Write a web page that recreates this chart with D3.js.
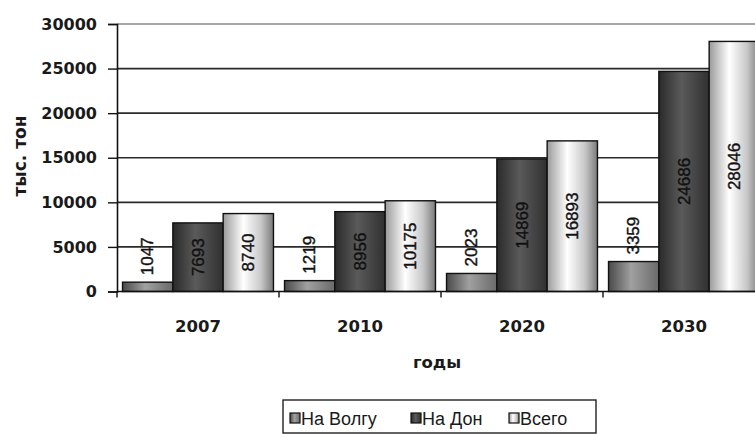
<!DOCTYPE html>
<html><head><meta charset="utf-8">
<script src="https://cdn.jsdelivr.net/npm/d3@7"></script>
<style>body{margin:0;background:#fff}svg{display:block}</style>
</head><body>
<svg id="c" width="755" height="434"></svg>
<script>
const categories = ["2007", "2010", "2020", "2030"];
const seriesNames = ["На Волгу", "На Дон", "Всего"];
const volga = [1047, 1219, 2023, 3359];
const don = [7693, 8956, 14869, 24686];
const total = [8740, 10175, 16893, 28046];
const yTicks = [0, 5000, 10000, 15000, 20000, 25000, 30000];
const yTitle = "тыс. тон";
const xTitle = "годы";

const seriesValues = [volga, don, total];
const svg = d3.select("#c");
const m = {left: 117, top: 24, right: 765, bottom: 291.5};

const defs = svg.append("defs");
const grads = [
  [["0%","#4a4a4a"],["45%","#a0a0a0"],["100%","#6a6a6a"]],
  [["0%","#2a2a2a"],["45%","#5a5a5a"],["100%","#303030"]],
  [["0%","#9a9a9a"],["40%","#ffffff"],["75%","#c8c8c8"],["100%","#7a7a7a"]]
];
grads.forEach((stops, i) => {
  const g = defs.append("linearGradient").attr("id", "g" + i).attr("x1", "0").attr("x2", "1").attr("y1", "0").attr("y2", "0");
  stops.forEach(s => g.append("stop").attr("offset", s[0]).attr("stop-color", s[1]));
});

const y = d3.scaleLinear().domain([0, 30000]).range([m.bottom, m.top]);
const x0 = d3.scaleBand().domain(categories).range([m.left, m.right]).paddingInner(0).paddingOuter(0);
const x1 = d3.scaleBand().domain(seriesNames).range([0, x0.bandwidth()]).paddingInner(0).paddingOuter(0.11);

// gridlines
svg.append("g").selectAll("line").data(yTicks.filter(t => t > 0)).join("line")
  .attr("x1", m.left).attr("x2", m.right)
  .attr("y1", d => y(d)).attr("y2", d => y(d))
  .attr("stroke", d => d === 30000 ? "#8a8a8a" : "#2a2a2a")
  .attr("stroke-width", 1.6);

// bars
const groups = svg.append("g").selectAll("g").data(categories).join("g")
  .attr("transform", d => `translate(${x0(d)},0)`);
groups.each(function(cat, ci) {
  const g = d3.select(this);
  seriesNames.forEach((s, si) => {
    const v = seriesValues[si][ci];
    g.append("rect")
      .attr("x", x1(s)).attr("width", x1.bandwidth())
      .attr("y", y(v)).attr("height", y(0) - y(v))
      .attr("fill", `url(#g${si})`)
      .attr("stroke", "#111").attr("stroke-width", 1.4);
  });
});

// labels
groups.each(function(cat, ci) {
  const g = d3.select(this);
  seriesNames.forEach((s, si) => {
    const v = seriesValues[si][ci];
    const cx = x1(s) + x1.bandwidth() / 2;
    let cy, anchor;
    if (si === 0) { cy = y(v) - 7; anchor = "start"; }
    else { cy = (y(v) + y(0)) / 2; anchor = "middle"; }
    g.append("text")
      .attr("transform", `translate(${cx},${cy}) rotate(-90)`)
      .attr("text-anchor", anchor)
      .attr("dominant-baseline", "central")
      .attr("font-family", "Liberation Sans, Arial, sans-serif")
      .attr("font-size", 17)
      .attr("fill", "#111").attr("stroke", "#111").attr("stroke-width", 0.4)
      .text(v);
  });
});

// y axis
const yAxis = d3.axisLeft(y).tickValues(yTicks).tickSize(9).tickPadding(11).tickFormat(d3.format("d"));
const ya = svg.append("g").attr("transform", `translate(${m.left},0)`).call(yAxis);
ya.select(".domain").attr("stroke", "#111").attr("stroke-width", 1.6);
ya.selectAll(".tick line").attr("stroke", "#111").attr("stroke-width", 1.4);
ya.selectAll(".tick text").attr("font-family", "DejaVu Sans, sans-serif").attr("font-weight", "bold")
  .attr("font-size", 16).attr("fill", "#1a1a1a");

// x axis
svg.append("line").attr("x1", m.left).attr("x2", m.right).attr("y1", y(0)).attr("y2", y(0))
  .attr("stroke", "#111").attr("stroke-width", 1.6);
svg.append("g").selectAll("line").data(categories).join("line")
  .attr("x1", d => x0(d)).attr("x2", d => x0(d))
  .attr("y1", y(0)).attr("y2", y(0) + 6)
  .attr("stroke", "#111").attr("stroke-width", 1.4);
svg.append("g").selectAll("text").data(categories).join("text")
  .attr("x", d => x0(d) + x0.bandwidth() / 2).attr("y", 332)
  .attr("text-anchor", "middle")
  .attr("font-family", "DejaVu Sans, sans-serif").attr("font-weight", "bold")
  .attr("font-size", 16.5).attr("fill", "#1a1a1a")
  .text(d => d);

// titles
svg.append("text").attr("transform", "translate(26,156) rotate(-90)")
  .attr("text-anchor", "middle")
  .attr("font-family", "DejaVu Sans, sans-serif").attr("font-weight", "bold")
  .attr("font-size", 17).attr("fill", "#1a1a1a").text(yTitle);
svg.append("text").attr("x", 437).attr("y", 368).attr("text-anchor", "middle")
  .attr("font-family", "DejaVu Sans, sans-serif").attr("font-weight", "bold")
  .attr("font-size", 16.5).attr("fill", "#1a1a1a").text(xTitle);

// legend
const lg = svg.append("g");
lg.append("rect").attr("x", 283).attr("y", 400).attr("width", 313).attr("height", 33)
  .attr("fill", "#fff").attr("stroke", "#222").attr("stroke-width", 1.4);
const legX = [290, 411, 509];
seriesNames.forEach((s, i) => {
  lg.append("rect").attr("x", legX[i]).attr("y", 413).attr("width", 10).attr("height", 10)
    .attr("fill", `url(#g${i})`).attr("stroke", "#111").attr("stroke-width", 1.2);
  lg.append("text").attr("x", legX[i] + 11).attr("y", 425)
    .attr("font-family", "Liberation Sans, Arial, sans-serif").attr("font-size", 18)
    .attr("fill", "#1a1a1a").text(s);
});
</script>
</body></html>
